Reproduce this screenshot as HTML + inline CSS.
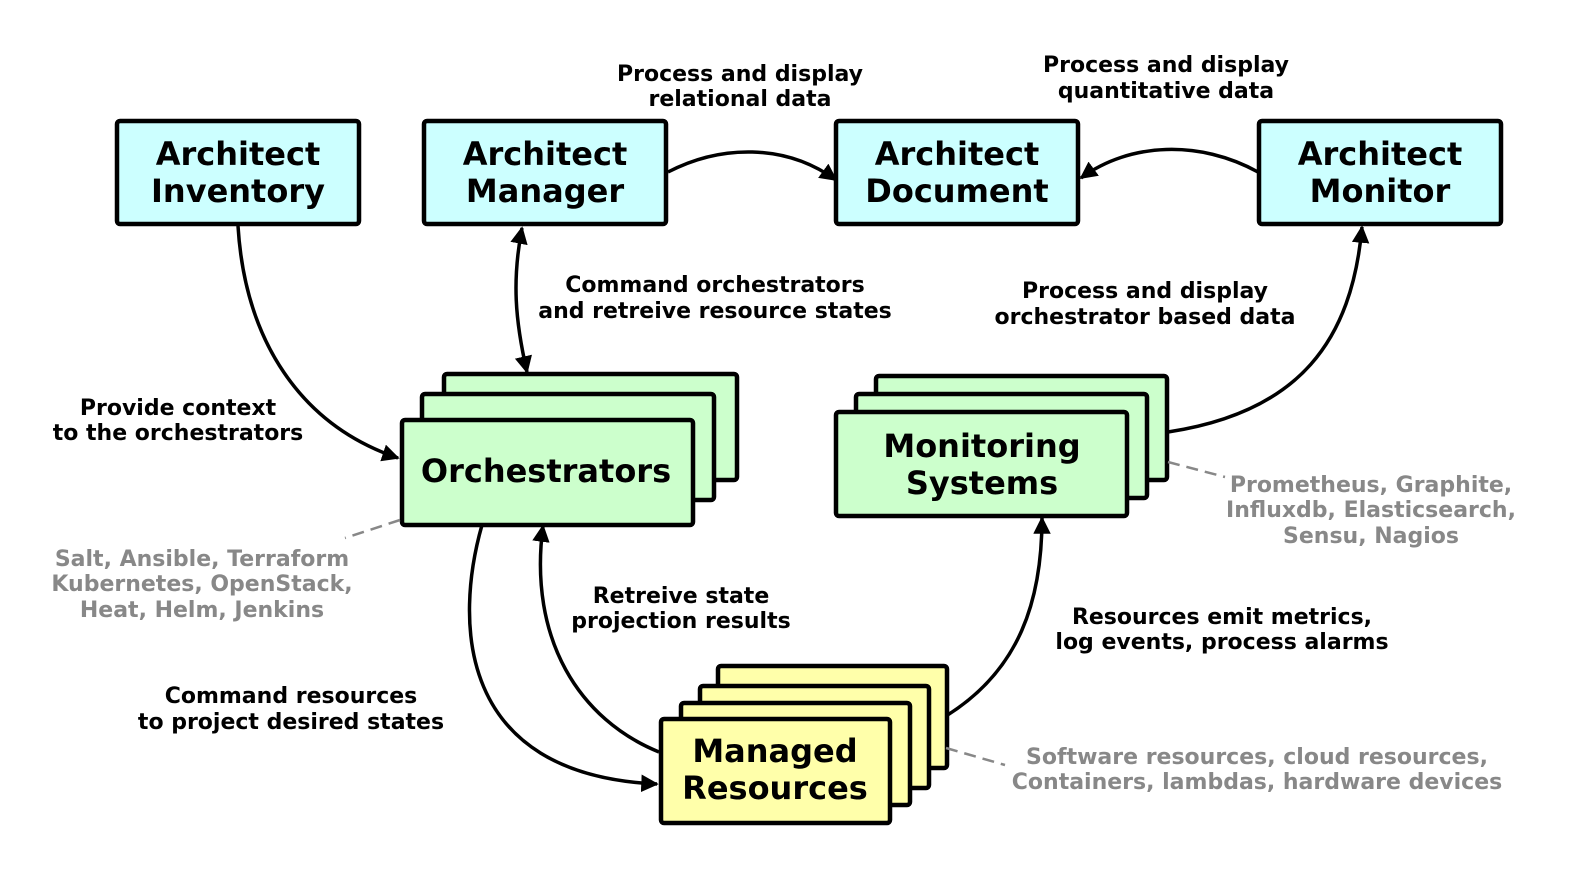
<!DOCTYPE html>
<html><head><meta charset="utf-8"><style>
html,body{margin:0;padding:0;background:#fff}
svg{display:block}
text{font-family:"DejaVu Sans","Liberation Sans",sans-serif;font-weight:bold}
.b{font-size:32px;fill:#000}
.l{font-size:22px;fill:#000}
.g{font-size:22px;fill:#888}
.bx{stroke:#000;stroke-width:4.5;stroke-linejoin:round}
.c{fill:#ccffff}.gr{fill:#ccffcc}.y{fill:#ffffaa}
.a{fill:none;stroke:#000;stroke-width:3.5}
.d{fill:none;stroke:#888;stroke-width:2.5;stroke-dasharray:12,7}
</style></head><body>
<svg width="1575" height="876" viewBox="0 0 1575 876" xmlns="http://www.w3.org/2000/svg">
<defs><marker id="m" viewBox="0 0 10 10" refX="9" refY="5" markerWidth="5" markerHeight="5" orient="auto-start-reverse" markerUnits="strokeWidth"><path d="M0,0 L10,5 L0,10 z" fill="#000"/></marker></defs>

<rect class="bx c" x="117" y="121" width="242" height="103" rx="3"/>
<rect class="bx c" x="424" y="121" width="242" height="103" rx="3"/>
<rect class="bx c" x="836" y="121" width="242" height="103" rx="3"/>
<rect class="bx c" x="1259" y="121" width="242" height="103" rx="3"/>
<g class="b" text-anchor="middle">
<text x="238" y="165">Architect</text><text x="238" y="202">Inventory</text>
<text x="545" y="165">Architect</text><text x="545" y="202">Manager</text>
<text x="957" y="165">Architect</text><text x="957" y="202">Document</text>
<text x="1380" y="165">Architect</text><text x="1380" y="202">Monitor</text>
</g>

<rect class="bx gr" x="444" y="374" width="293" height="106" rx="3"/>
<rect class="bx gr" x="422" y="394" width="292" height="106" rx="3"/>
<rect class="bx gr" x="402" y="420" width="291" height="105" rx="3"/>
<text class="b" x="546" y="482" text-anchor="middle">Orchestrators</text>

<rect class="bx gr" x="876" y="376" width="291" height="104" rx="3"/>
<rect class="bx gr" x="856" y="394" width="291" height="104" rx="3"/>
<rect class="bx gr" x="836" y="412" width="291" height="104" rx="3"/>
<text class="b" x="982" y="457" text-anchor="middle">Monitoring</text>
<text class="b" x="982" y="494" text-anchor="middle">Systems</text>

<rect class="bx y" x="718" y="666" width="229" height="102" rx="3"/>
<rect class="bx y" x="700" y="686" width="229" height="102" rx="3"/>
<rect class="bx y" x="681" y="703" width="229" height="102" rx="3"/>
<rect class="bx y" x="661" y="719" width="229" height="104" rx="3"/>
<text class="b" x="775" y="762" text-anchor="middle">Managed</text>
<text class="b" x="775" y="799" text-anchor="middle">Resources</text>

<path class="a" marker-end="url(#m)" d="M238,226 C245,340 300,425 398,458"/>
<path class="a" marker-start="url(#m)" marker-end="url(#m)" d="M522,228 C512,280 515,320 527,372"/>
<path class="a" marker-end="url(#m)" d="M668,172 C720,145 785,143 836,180"/>
<path class="a" marker-end="url(#m)" d="M1258,172 C1200,140 1130,142 1081,178"/>
<path class="a" marker-end="url(#m)" d="M1168,432 C1300,412 1352,340 1362,227"/>
<path class="a" marker-end="url(#m)" d="M482,525 C455,620 455,775 657,784"/>
<path class="a" marker-end="url(#m)" d="M659,752 C580,720 528,640 543,526"/>
<path class="a" marker-end="url(#m)" d="M946,716 C1020,670 1042,600 1042,518"/>

<path class="d" d="M400,520 L345,538"/>
<path class="d" d="M1168,462 L1225,477"/>
<path class="d" d="M946,748 L1005,765"/>

<g class="l" text-anchor="middle">
<text x="740" y="81">Process and display</text><text x="740" y="106">relational data</text>
<text x="1166" y="72">Process and display</text><text x="1166" y="98">quantitative data</text>
<text x="715" y="292">Command orchestrators</text><text x="715" y="318">and retreive resource states</text>
<text x="1145" y="298">Process and display</text><text x="1145" y="324">orchestrator based data</text>
<text x="178" y="415">Provide context</text><text x="178" y="440">to the orchestrators</text>
<text x="681" y="603">Retreive state</text><text x="681" y="628">projection results</text>
<text x="1222" y="624">Resources emit metrics,</text><text x="1222" y="649">log events, process alarms</text>
<text x="291" y="703">Command resources</text><text x="291" y="729">to project desired states</text>
</g>
<g class="g" text-anchor="middle">
<text x="202" y="566">Salt, Ansible, Terraform</text><text x="202" y="591">Kubernetes, OpenStack,</text><text x="202" y="617">Heat, Helm, Jenkins</text>
<text x="1371" y="492">Prometheus, Graphite,</text><text x="1371" y="517">Influxdb, Elasticsearch,</text><text x="1371" y="543">Sensu, Nagios</text>
<text x="1257" y="764">Software resources, cloud resources,</text><text x="1257" y="789">Containers, lambdas, hardware devices</text>
</g>
</svg>
</body></html>
